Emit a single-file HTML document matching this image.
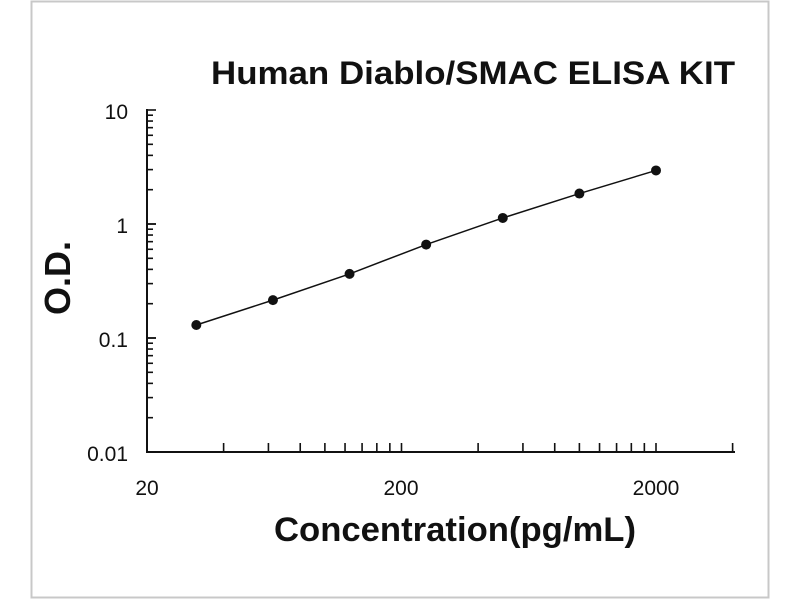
<!DOCTYPE html>
<html><head><meta charset="utf-8"><style>
html,body{margin:0;padding:0;background:#fff;}
svg{display:block;font-family:"Liberation Sans",sans-serif;}
</style></head><body>
<svg id="s" width="800" height="600" xmlns="http://www.w3.org/2000/svg">
<rect x="0" y="0" width="800" height="600" fill="#fff"/>
<rect x="31.5" y="1.5" width="737" height="596" fill="none" stroke="#c8c8c8" stroke-width="2"/>
<text x="473" y="84" font-size="32" font-weight="bold" text-anchor="middle" fill="#111" textLength="524" lengthAdjust="spacingAndGlyphs">Human Diablo/SMAC ELISA KIT</text>
<text x="455" y="541" font-size="34" font-weight="bold" text-anchor="middle" fill="#111" textLength="362" lengthAdjust="spacingAndGlyphs">Concentration(pg/mL)</text>
<text transform="translate(70,278) rotate(-90)" font-size="36" font-weight="bold" text-anchor="middle" fill="#111">O.D.</text>
<g id="ax" stroke="#111" stroke-width="2" fill="none">
<line x1="147" y1="109" x2="147" y2="452"/>
<line x1="146" y1="452" x2="735" y2="452"/>
</g>
<g font-size="21" fill="#111" text-anchor="end">
<text x="128" y="119">10</text>
<text x="128" y="233">1</text>
<text x="128" y="347">0.1</text>
<text x="128" y="461">0.01</text>
</g>
<g font-size="21" fill="#111" text-anchor="middle">
<text x="147" y="495">20</text>
<text x="401" y="495">200</text>
<text x="656" y="495">2000</text>
</g>
<g id="data"></g>
</svg>
<script>
var ns="http://www.w3.org/2000/svg",ax=document.getElementById("ax"),d=document.getElementById("data");
function L(x1,y1,x2,y2,p,w){var l=document.createElementNS(ns,"line");l.setAttribute("x1",x1);l.setAttribute("y1",y1);l.setAttribute("x2",x2);l.setAttribute("y2",y2);if(w)l.setAttribute("stroke-width",w);p.appendChild(l);}
function X(c){return 147+254.5*Math.log10(c/20);}
function Y(v){return 452-114*(Math.log10(v)+2);}
for(var e=-2;e<1;e++){for(var k=1;k<=10;k++){var y=Y(k*Math.pow(10,e));L(147,y,(k==1||k==10)?156:153,y,ax,1.6);}}
var xs=[];for(var c=40;c<=200;c+=20)xs.push(c);for(c=400;c<=2000;c+=200)xs.push(c);xs.push(4000);
xs.forEach(function(c){var x=X(c);L(x,452,x,443,ax,1.6);});
var pts=[31.25,62.5,125,250,500,1000,2000],od=[0.13,0.215,0.365,0.66,1.13,1.85,2.95];
var pl=document.createElementNS(ns,"polyline");pl.setAttribute("fill","none");pl.setAttribute("stroke","#111");pl.setAttribute("stroke-width","1.5");
pl.setAttribute("points",pts.map(function(c,i){return X(c)+","+Y(od[i]);}).join(" "));d.appendChild(pl);
pts.forEach(function(c,i){var ci=document.createElementNS(ns,"circle");ci.setAttribute("cx",X(c));ci.setAttribute("cy",Y(od[i]));ci.setAttribute("r",5);ci.setAttribute("fill","#111");d.appendChild(ci);});
</script>
</body></html>
